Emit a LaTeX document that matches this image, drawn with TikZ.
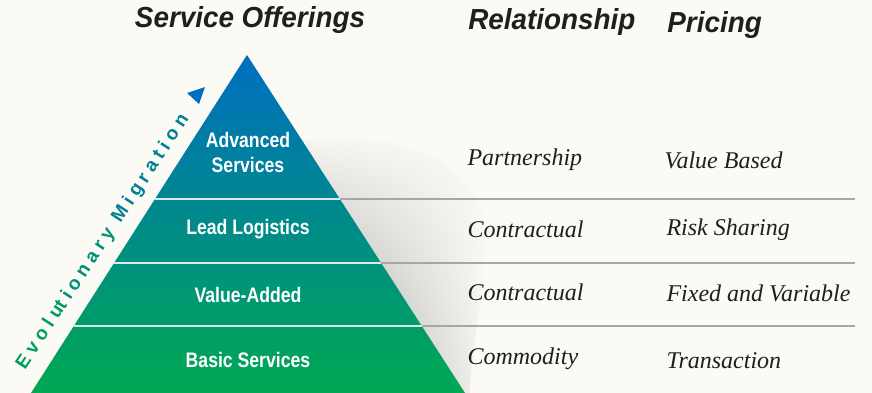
\documentclass[tikz,border=0pt]{standalone}
\usepackage{fontspec}
\setmainfont{Liberation Serif}
\setsansfont{Liberation Sans}
\newfontfamily\spacedfont[LetterSpace=26]{Liberation Sans}
\usetikzlibrary{calc,fadings}
\definecolor{bg}{RGB}{251,250,245}
\definecolor{topblue}{RGB}{0,110,192}
\definecolor{midteal}{RGB}{0,136,142}
\definecolor{botgreen}{RGB}{0,168,82}
\definecolor{migA}{RGB}{0,160,90}
\definecolor{migB}{RGB}{0,145,120}
\definecolor{migC}{RGB}{0,128,150}
\tikzset{
    head/.style={font=\sffamily\bfseries\itshape\fontsize{29}{30}\selectfont, text=black!88, xscale=0.96},
    tier/.style={font=\sffamily\bfseries\fontsize{21}{25}\selectfont, text=white, xscale=0.84, align=center},
    rel/.style={font=\itshape\fontsize{24}{26}\selectfont, text=black!88, anchor=west},
    sepin/.style={draw=white!85!teal, line width=1.3pt},
    sepout/.style={draw=black!35, line width=1.3pt}
}

\begin{document}
\begin{tikzpicture}[x=1pt,y=-1pt]
    \fill[bg] (0,0) rectangle (872,393);
    \useasboundingbox (0,0) rectangle (872,393);
    % pyramid corners
    \coordinate (apex) at (247,55);
    \coordinate (bl) at (31,393);
    \coordinate (br) at (465,393);
    \coordinate (rend) at (855,0);
    % soft shadow
    \shade[left color=black!48, right color=bg, path fading=north]
        ($(apex)!0.25!(br)$) .. controls (420,130) and (492,170) .. (485,250)
        .. controls (480,320) and (470,360) .. (470,393) -- (br) -- cycle;
    \shade[top color=topblue, middle color=midteal, bottom color=botgreen]
        (apex) -- (br) -- (bl) -- cycle;
    % tier separators
    \foreach \t/\n in {0.426/a, 0.615/b, 0.802/c} {
        \coordinate (l\n) at ($(apex)!\t!(bl)$);
        \coordinate (r\n) at ($(apex)!\t!(br)$);
        \draw[sepin] (l\n) -- (r\n);
        \draw[sepout] (r\n) -- (r\n -| rend);
    }
    % headings
    \node[head] (offer) at (250,20) {Service Offerings};
    \node[head, anchor=west] (relhd) at (465,22) {Relationship};
    \node[head, anchor=west] (pricehd) at (664,25) {Pricing};
    % tiers
    \node[tier] (adv) at (248,152) {Advanced\\Services};
    \node[tier] (lead) at (248,229) {Lead Logistics};
    \node[tier] (value) at (248,295) {Value-Added};
    \node[tier] (basic) at (248,360) {Basic Services};
    % relationship
    \node[rel] (r1) at (464,160) {Partnership};
    \node[rel] (r2) at (464,229) {Contractual};
    \node[rel] (r3) at (464,292) {Contractual};
    \node[rel] (r4) at (464,359) {Commodity};
    % pricing
    \node[rel] (p1) at (661,160) {Value Based};
    \node[rel] (p2) at (663,230) {Risk Sharing};
    \node[rel] (p3) at (663,293) {Fixed and Variable};
    \node[rel] (p4) at (663,361) {Transaction};
    % migration arrow
    \node[rotate=56.8, font=\spacedfont\bfseries\fontsize{19}{20}\selectfont] (mig) at (103,242)
        {\textcolor{migA}{Evolu}\textcolor{migB}{tionary} \textcolor{migC}{Migration}};
    \coordinate (tip) at (205,87);
    \fill[topblue] (tip) -- (187,93) -- (199,104) -- cycle;
\end{tikzpicture}
\end{document}
